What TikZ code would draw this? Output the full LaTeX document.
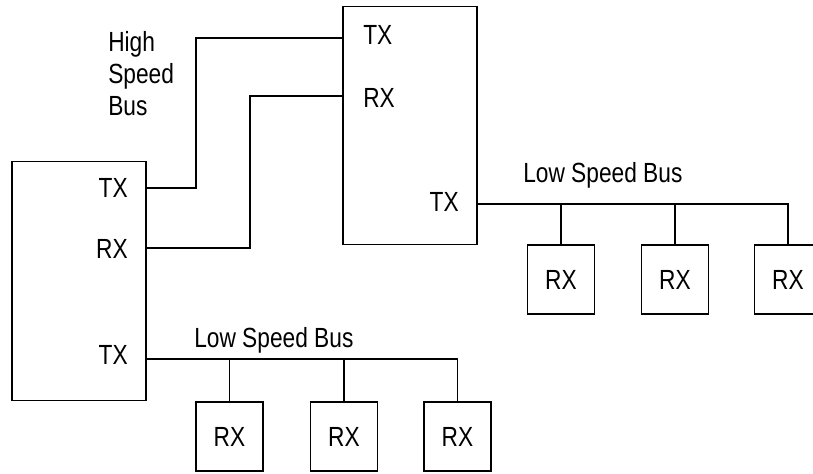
\documentclass[tikz,border=0pt]{standalone}
\usepackage{fontspec}
\setmainfont[FakeStretch=0.82]{Liberation Sans}
\usepackage{tikz}
\usetikzlibrary{positioning}
\tikzset{
  unitbox/.style={rectangle,draw=black,line width=0.8pt,
    minimum width=3.35cm,minimum height=5.96cm,inner sep=0pt},
  rxbox/.style={rectangle,draw=black,line width=0.8pt,
    minimum width=1.675cm,minimum height=1.725cm,inner sep=0pt,
    font=\portfont},
  port/.style={inner sep=0pt,font=\portfont},
  lbl/.style={inner sep=0pt,font=\portfont,align=left},
  wire/.style={line width=0.8pt,color=black},
}
\newcommand{\portfont}{\fontsize{19.7}{22.7}\selectfont}

\begin{document}
\begin{tikzpicture}[x=0.025cm,y=-0.025cm]
  \useasboundingbox (0,0) rectangle (813,473);
  \clip (0,0) rectangle (813,473);

  % master and slave units
  \node[unitbox] (A) at (79,281) {};
  \node[unitbox] (B) at (410,125.5) {};

  \node[port,anchor=base east] (aTXl) at (128,197) {TX};
  \node[port,anchor=base east] (aRXl) at (128,258) {RX};
  \node[port,anchor=base east] (aLTl) at (128,364) {TX};
  \node[port,anchor=base west] (bTXl) at (363,45) {TX};
  \node[port,anchor=base west] (bRXl) at (363,107) {RX};
  \node[port,anchor=base east] (bLTl) at (459,211) {TX};

  \coordinate (aTX) at (146,188);
  \coordinate (aRX) at (146,248);
  \coordinate (aLT) at (146,359);
  \coordinate (bTX) at (343,38);
  \coordinate (bRX) at (343,96);
  \coordinate (bLT) at (477,204);

  % bus labels
  \node[lbl,anchor=west] (hsb) at (108,74) {High\\Speed\\Bus};
  \node[lbl,anchor=base west] (lsbR) at (523,182) {Low Speed Bus};
  \node[lbl,anchor=base west] (lsbB) at (194,347) {Low Speed Bus};

  % receivers
  \node[rxbox] (r1) at (561,279.5) {RX};
  \node[rxbox] (r2) at (675,279.5) {RX};
  \node[rxbox] (r3) at (788,279.5) {RX};
  \node[rxbox] (l1) at (229.5,436.5) {RX};
  \node[rxbox] (l2) at (344,436.5) {RX};
  \node[rxbox] (l3) at (457.5,436.5) {RX};

  % high speed bus
  \draw[wire] (aTX) -- ++(50,0) |- (bTX);
  \draw[wire] (aRX) -- ++(104,0) |- (bRX);

  % low speed buses
  \draw[wire] (bLT) -| (r3.north);
  \draw[wire] (aLT) -| (l3.north);
  \foreach \rx in {r1,r2}
    \draw[wire] (\rx.north) -- (\rx.north |- bLT);
  \foreach \rx in {l1,l2}
    \draw[wire] (\rx.north) -- (\rx.north |- aLT);

\end{tikzpicture}
\end{document}
